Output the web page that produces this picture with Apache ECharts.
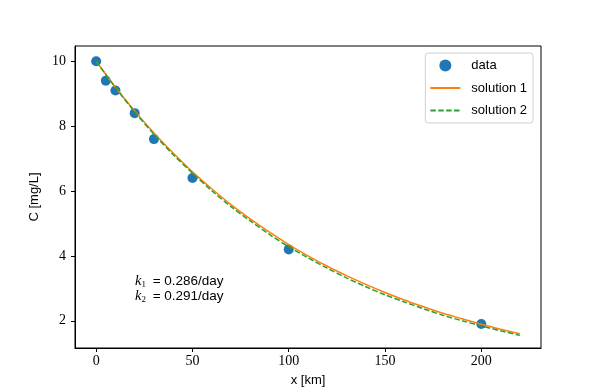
<!DOCTYPE html>
<html><head><meta charset="utf-8">
<script src="https://cdn.jsdelivr.net/npm/echarts@6/dist/echarts.min.js"></script>
<style>html,body{margin:0;padding:0;background:#fff}#c{width:600px;height:392px}</style>
</head><body><div id="c"></div>
<script>
const dataX = [0, 5, 10, 20, 30, 50, 100, 200];
const dataC = [10, 9.4, 9.1, 8.4, 7.6, 6.4, 4.2, 1.9];
const curveX = [0,10,20,30,40,50,60,70,80,90,100,110,120,130,140,150,160,170,180,190,200,210,220];
const sol1 = [10,9.20,8.47,7.79,7.17,6.59,6.07,5.58,5.14,4.73,4.35,4.00,3.68,3.39,3.12,2.87,2.64,2.43,2.23,2.06,1.89,1.74,1.60];
const sol2 = [10,9.19,8.44,7.75,7.12,6.55,6.01,5.52,5.08,4.66,4.28,3.94,3.62,3.32,3.05,2.80,2.58,2.37,2.17,2.00,1.84,1.69,1.55];
const xTicks = [0, 50, 100, 150, 200];
const yTicks = [2, 4, 6, 8, 10];
const seriesNames = ['data', 'solution 1', 'solution 2'];
const kLabels = ['0.286/day', '0.291/day'];

const zip = (a, b) => a.map((v, i) => [v, b[i]]);
const serif = 'Liberation Serif';
const sans = 'Liberation Sans';
const chart = echarts.init(document.getElementById('c'), null, {renderer: 'canvas'});
chart.setOption({
  animation: false,
  backgroundColor: '#fff',
  grid: {left: 75, right: 59, top: 46, bottom: 43, show: true, borderColor: '#000', borderWidth: 1, backgroundColor: 'transparent'},
  xAxis: {
    type: 'value', min: -11, max: 231,
    name: 'x [km]', nameLocation: 'middle', nameGap: 26,
    nameTextStyle: {fontFamily: sans, fontSize: 13, color: '#000'},
    axisLine: {show: true, onZero: false, lineStyle: {color: '#000', width: 1}},
    axisTick: {show: true, inside: false, length: 4, customValues: xTicks, lineStyle: {color: '#000'}},
    axisLabel: {customValues: xTicks, fontFamily: serif, fontSize: 14, color: '#000', margin: 6},
    splitLine: {show: false}
  },
  yAxis: {
    type: 'value', min: 1.16, max: 10.47,
    name: 'C [mg/L]', nameLocation: 'middle', nameGap: 30, nameRotate: 90,
    nameTextStyle: {fontFamily: sans, fontSize: 13, color: '#000'},
    axisLine: {show: true, onZero: false, lineStyle: {color: '#000', width: 1}},
    axisTick: {show: true, inside: false, length: 4, customValues: yTicks, lineStyle: {color: '#000'}},
    axisLabel: {customValues: yTicks, fontFamily: serif, fontSize: 14, color: '#000', margin: 9},
    splitLine: {show: false}
  },
  legend: {
    orient: 'vertical', right: 67, top: 53,
    backgroundColor: '#fff', borderColor: '#d0d0d0', borderWidth: 1, borderRadius: 3,
    padding: [6, 6, 6, 4], itemWidth: 30, itemHeight: 12, itemGap: 9.5,
    textStyle: {fontFamily: sans, fontSize: 13, color: '#000', padding: [0, 0, 0, 6]},
    data: [
      {name: seriesNames[0], icon: 'circle', itemStyle: {opacity: 1}},
      {name: seriesNames[1], itemStyle: {opacity: 0}},
      {name: seriesNames[2], itemStyle: {opacity: 0}}
    ]
  },
  series: [
    {name: seriesNames[0], type: 'scatter', data: zip(dataX, dataC), symbol: 'circle', symbolSize: 10,
     itemStyle: {color: '#1f77b4', opacity: 1}, z: 2},
    {name: seriesNames[1], type: 'line', data: zip(curveX, sol1), symbol: 'none', smooth: 0.3,
     lineStyle: {color: '#ff7f0e', width: 1.5}, itemStyle: {color: '#ff7f0e'}, z: 3},
    {name: seriesNames[2], type: 'line', data: zip(curveX, sol2), symbol: 'none', smooth: 0.3,
     lineStyle: {color: '#2ca02c', width: 1.5, type: [5.5, 2.4]}, itemStyle: {color: '#2ca02c'}, z: 4}
  ],
  graphic: [
    {type: 'text', left: 135, top: 274, style: {
      text: '{i|k}{s|1} = ' + kLabels[0] + '\n{i|k}{s|2} = ' + kLabels[1],
      font: '13.5px ' + sans, fill: '#000', lineHeight: 15,
      rich: {
        i: {fontFamily: serif, fontStyle: 'italic', fontSize: 14.5, fill: '#000'},
        s: {fontFamily: serif, fontSize: 9, verticalAlign: 'bottom', padding: [6, 3, 0, 0], fill: '#000'}
      }
    }}
  ]
});
</script></body></html>
